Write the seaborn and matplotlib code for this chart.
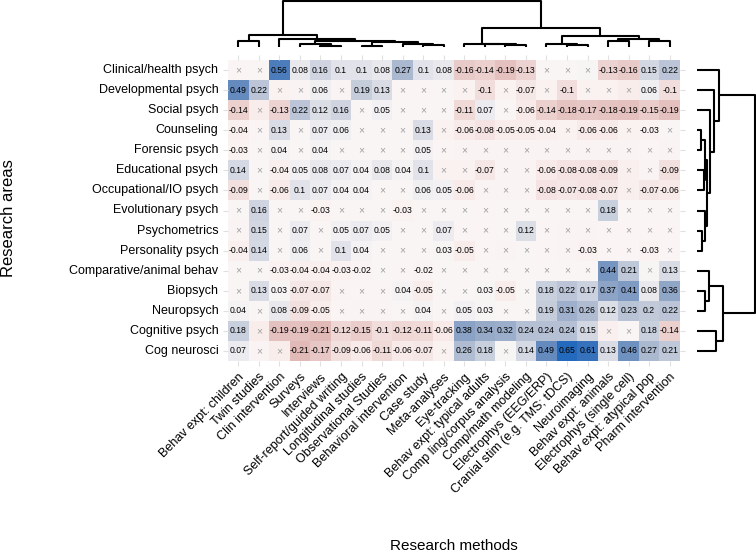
import numpy as np
import pandas as pd
import matplotlib
matplotlib.use("Agg")
import matplotlib.pyplot as plt
import seaborn as sns

plt.rcParams['font.family'] = ['Liberation Sans', 'DejaVu Sans']

row_labels = ["Clinical/health psych", "Developmental psych", "Social psych", "Counseling",
              "Forensic psych", "Educational psych", "Occupational/IO psych", "Evolutionary psych",
              "Psychometrics", "Personality psych", "Comparative/animal behav", "Biopsych",
              "Neuropsych", "Cognitive psych", "Cog neurosci"]

col_labels = ["Behav expt: children", "Twin studies", "Clin intervention", "Surveys", "Interviews",
              "Self-report/guided writing", "Longitudinal studies", "Observational Studies",
              "Behavioral intervention", "Case study", "Meta-analyses", "Eye-tracking",
              "Behav expt: typical adults", "Comp ling/corpus analysis", "Comp/math modeling",
              "Electrophys (EEG/ERP)", "Cranial stim (e.g. TMS; tDCS)", "Neuroimaging",
              "Behav expt: animals", "Electrophys (single cell)", "Behav expt: atypical pop",
              "Pharm intervention"]

# correlation values (non-significant cells hold the faint tint)
values = [
    [-0.01, 0.02, 0.56, 0.08, 0.16, 0.1, 0.1, 0.08, 0.27, 0.1, 0.08, -0.16, -0.14, -0.19, -0.13, 0.0, 0.01, 0.03, -0.13, -0.16, 0.15, 0.22],
    [0.49, 0.22, -0.03, -0.02, 0.06, -0.02, 0.19, 0.13, -0.01, -0.01, 0.0, -0.03, -0.1, -0.03, -0.07, -0.03, -0.1, -0.03, -0.03, -0.05, 0.06, -0.1],
    [-0.14, -0.05, -0.13, 0.22, 0.12, 0.16, 0.02, 0.05, 0.0, 0.0, 0.0, -0.11, 0.07, 0.01, -0.06, -0.14, -0.18, -0.17, -0.18, -0.19, -0.15, -0.19],
    [-0.04, -0.01, 0.13, 0.01, 0.07, 0.06, 0.01, 0.0, 0.01, 0.13, -0.03, -0.06, -0.08, -0.05, -0.05, -0.04, -0.03, -0.06, -0.06, -0.03, -0.03, 0.0],
    [-0.03, 0.0, 0.04, 0.01, 0.04, 0.01, 0.0, 0.01, 0.01, 0.05, -0.01, -0.02, -0.02, -0.02, -0.02, -0.02, -0.02, -0.02, -0.02, -0.02, -0.01, -0.02],
    [0.14, 0.01, -0.04, 0.05, 0.08, 0.07, 0.04, 0.08, 0.04, 0.1, -0.03, -0.03, -0.07, -0.02, -0.02, -0.06, -0.08, -0.08, -0.09, -0.04, -0.02, -0.09],
    [-0.09, 0.01, -0.06, 0.1, 0.07, 0.04, 0.04, 0.01, 0.01, 0.06, 0.05, -0.06, -0.02, -0.02, -0.02, -0.08, -0.07, -0.08, -0.07, -0.04, -0.07, -0.06],
    [0.0, 0.16, 0.01, 0.0, -0.03, 0.0, 0.0, 0.0, -0.03, 0.0, 0.0, 0.0, -0.01, 0.01, 0.01, 0.0, 0.0, 0.01, 0.18, 0.02, 0.0, 0.0],
    [-0.02, 0.15, 0.01, 0.07, 0.01, 0.05, 0.07, 0.05, 0.0, 0.01, 0.07, -0.01, -0.01, 0.0, 0.12, -0.01, -0.02, -0.02, -0.01, -0.01, -0.01, -0.01],
    [-0.04, 0.14, 0.01, 0.06, 0.01, 0.1, 0.04, 0.01, 0.0, 0.01, 0.03, -0.05, -0.01, -0.02, 0.0, -0.01, -0.02, -0.03, -0.01, -0.01, -0.03, -0.01],
    [0.0, 0.0, -0.03, -0.04, -0.04, -0.03, -0.02, 0.0, -0.01, -0.02, 0.0, 0.0, 0.01, 0.0, 0.01, 0.0, 0.01, 0.02, 0.44, 0.21, 0.03, 0.13],
    [0.02, 0.13, 0.03, -0.07, -0.07, -0.02, -0.01, -0.01, 0.04, -0.05, 0.0, 0.02, 0.03, -0.05, 0.02, 0.18, 0.22, 0.17, 0.37, 0.41, 0.08, 0.36],
    [0.04, 0.01, 0.08, -0.09, -0.05, -0.01, -0.02, -0.02, 0.01, 0.04, 0.0, 0.05, 0.03, 0.01, 0.02, 0.19, 0.31, 0.26, 0.12, 0.23, 0.2, 0.22],
    [0.18, -0.05, -0.19, -0.19, -0.21, -0.12, -0.15, -0.1, -0.12, -0.11, -0.06, 0.38, 0.34, 0.32, 0.24, 0.24, 0.24, 0.15, -0.04, 0.0, 0.18, -0.14],
    [0.07, -0.02, -0.05, -0.21, -0.17, -0.09, -0.06, -0.11, -0.06, -0.07, -0.03, 0.26, 0.18, 0.03, 0.14, 0.49, 0.65, 0.61, 0.13, 0.46, 0.27, 0.21],
]

# column indices of non-significant cells (drawn as a grey cross), per row
nonsig = [
    [0, 1, 15, 16, 17],
    [2, 3, 5, 8, 9, 10, 11, 13, 15, 17, 18, 19],
    [1, 6, 8, 9, 10, 13],
    [1, 3, 6, 7, 8, 10, 16, 19, 21],
    [1, 3, 5, 6, 7, 8, 10, 11, 12, 13, 14, 15, 16, 17, 18, 19, 20, 21],
    [1, 10, 11, 13, 14, 19, 20],
    [1, 7, 8, 12, 13, 14, 19],
    [0, 2, 3, 5, 6, 7, 9, 10, 11, 12, 13, 14, 15, 16, 17, 19, 20, 21],
    [0, 2, 4, 8, 9, 11, 12, 13, 15, 16, 17, 18, 19, 20, 21],
    [2, 4, 7, 8, 9, 12, 13, 14, 15, 16, 18, 19, 21],
    [0, 1, 7, 8, 10, 11, 12, 13, 14, 15, 16, 17, 20],
    [0, 5, 6, 7, 10, 11, 14],
    [1, 5, 6, 7, 8, 10, 13, 14],
    [1, 18, 19],
    [1, 2, 10, 13],
]

# dendrogram trees: (height, left, right); ints are leaf positions
col_tree = (1.0,
            (0.25, (0.14, 0, 1),
             (0.18, 2,
              (0.12, (0.055, 3, (0.025, 4, 5)),
               (0.105, (0.025, 6, 7), (0.055, 8, (0.04, 9, 10)))))),
            (0.42, (0.065, 11, (0.055, 12, (0.045, 13, 14))),
             (0.245, (0.065, 15, (0.045, 16, 17)),
              (0.18, (0.12, 18, 19), (0.12, 20, 21)))))

row_tree = (1.0,
            (0.38, 0, (0.295, 1, (0.22, 2,
                                  (0.173, (0.145, (0.075, 3, 4), (0.116, 5, 6)),
                                   (0.133, 7, (0.092, 8, 9)))))),
            (0.44, (0.208, 10, (0.133, 11, 12)), (0.324, 13, 14)))

df = pd.DataFrame(values, index=row_labels, columns=col_labels)
annot = df.copy().astype(object)
for i in range(len(row_labels)):
    for j in range(len(col_labels)):
        annot.iat[i, j] = "\u00d7" if j in nonsig[i] else f"{round(values[i][j], 2):g}"

W, H = 756, 553
fig = plt.figure(figsize=(W / 100, H / 100), dpi=100)
hx0, hx1, hy0, hy1 = 228, 680, 60, 361
ax = fig.add_axes([hx0 / W, 1 - hy1 / H, (hx1 - hx0) / W, (hy1 - hy0) / H])
cax_top = fig.add_axes([hx0 / W, 1 - 47 / H, (hx1 - hx0) / W, 46 / H])
cax_right = fig.add_axes([697 / W, 1 - hy1 / H, 58 / W, (hy1 - hy0) / H])

sns.heatmap(df, ax=ax, cmap="vlag_r", vmin=-0.65, vmax=0.65, center=0, cbar=False,
            annot=annot.values, fmt="", annot_kws={"size": 6.2, "color": "black"})
for t in ax.texts:
    if t.get_text() == "\u00d7":
        t.set_color("#a0a0a0")
        t.set_fontsize(7.5)

ax.set_xticklabels(col_labels, rotation=45, ha="right", rotation_mode="anchor", fontsize=9)
ax.set_yticklabels(row_labels, rotation=0, fontsize=9)
ax.tick_params(axis="both", color="#e0e0e0", length=3.5, top=True, right=True)
ax.set_xlabel("Research methods", fontsize=11)
ax.set_ylabel("Research areas", fontsize=12)
ax.xaxis.label.set_va("center")
ax.yaxis.label.set_va("center")
ax.xaxis.set_label_coords(0.5, -(546 - hy1) / (hy1 - hy0))
ax.yaxis.set_label_coords((9 - hx0) / (hx1 - hx0), (hy1 - 218) / (hy1 - hy0))


def draw_tree(a, node, orient):
    if isinstance(node, int):
        return node + 0.5, 0.0
    h, left, right = node
    pa, ha = draw_tree(a, left, orient)
    pb, hb = draw_tree(a, right, orient)
    xs = [pa, pa, pb, pb]
    ys = [ha, h, h, hb]
    if orient == "top":
        a.plot(xs, ys, color="black", lw=1.5, clip_on=False, solid_capstyle="butt")
    else:
        a.plot(ys, xs, color="black", lw=1.5, clip_on=False, solid_capstyle="butt")
    return (pa + pb) / 2, h


draw_tree(cax_top, col_tree, "top")
cax_top.set_xlim(0, len(col_labels))
cax_top.set_ylim(0, 1.0)
draw_tree(cax_right, row_tree, "right")
cax_right.set_ylim(len(row_labels), 0)
cax_right.set_xlim(0, 1.0)
for a in (cax_top, cax_right):
    a.axis("off")

fig.savefig("out.png", dpi=100)
